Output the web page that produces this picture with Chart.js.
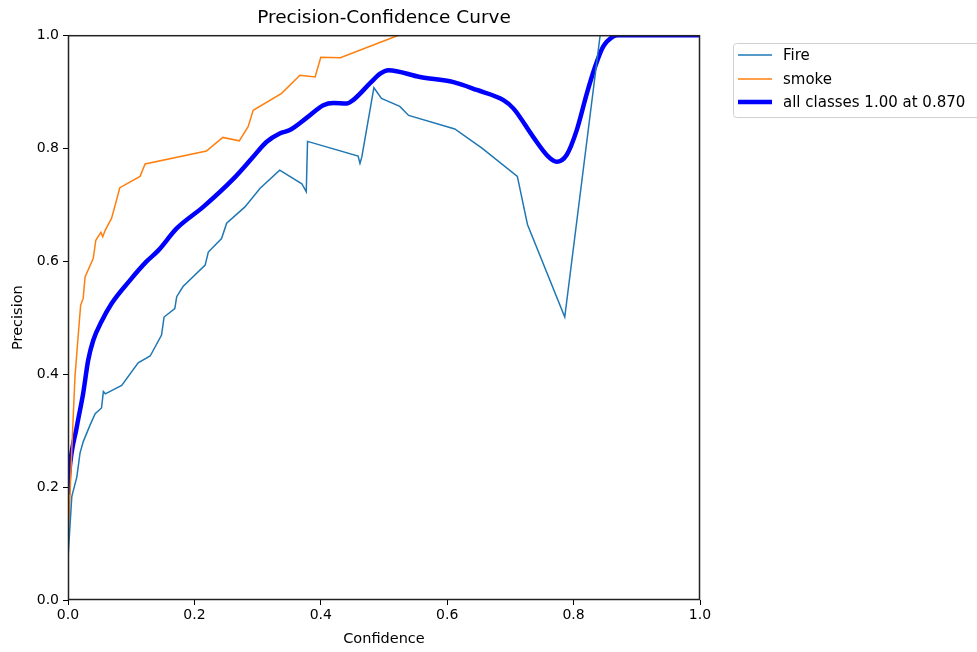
<!DOCTYPE html>
<html>
<head>
<meta charset="utf-8">
<script src="https://cdn.jsdelivr.net/npm/chart.js@4.4.1/dist/chart.umd.min.js"></script>
<style>
  html, body { margin: 0; padding: 0; background: #fff; }
  #wrap { width: 977px; height: 652px; }
</style>
</head>
<body>
<div id="wrap"><canvas id="pc" width="977" height="652"></canvas></div>
<script>
// values
const tickValues = [0.0, 0.2, 0.4, 0.6, 0.8, 1.0];

const fireX = [0, 0.006, 0.014, 0.019, 0.024, 0.035, 0.043, 0.053, 0.056, 0.059, 0.085, 0.111, 0.130, 0.148, 0.152, 0.169, 0.172, 0.182, 0.217, 0.222, 0.243, 0.251, 0.280, 0.304, 0.335, 0.370, 0.377, 0.379, 0.459, 0.462, 0.465, 0.484, 0.496, 0.525, 0.539, 0.612, 0.655, 0.711, 0.727, 0.786, 0.842, 1.0];
const fireY = [0.074, 0.183, 0.218, 0.26, 0.28, 0.31, 0.33, 0.34, 0.369, 0.365, 0.38, 0.42, 0.432, 0.469, 0.501, 0.516, 0.537, 0.555, 0.593, 0.616, 0.640, 0.667, 0.696, 0.729, 0.761, 0.737, 0.723, 0.812, 0.786, 0.773, 0.785, 0.907, 0.888, 0.874, 0.858, 0.834, 0.800, 0.750, 0.665, 0.501, 1.0, 1.0];

const smokeX = [0, 0.006, 0.011, 0.016, 0.020, 0.024, 0.027, 0.040, 0.044, 0.052, 0.055, 0.059, 0.069, 0.082, 0.114, 0.122, 0.219, 0.245, 0.271, 0.285, 0.293, 0.338, 0.367, 0.391, 0.400, 0.431, 0.523, 1.0];
const smokeY = [0.10, 0.265, 0.395, 0.466, 0.522, 0.534, 0.572, 0.605, 0.637, 0.651, 0.643, 0.655, 0.676, 0.730, 0.750, 0.772, 0.795, 0.819, 0.813, 0.838, 0.867, 0.897, 0.929, 0.926, 0.961, 0.960, 1.0, 1.0];

const allX = [0, 0.002, 0.014, 0.024, 0.032, 0.040, 0.053, 0.069, 0.098, 0.124, 0.143, 0.172, 0.214, 0.262, 0.291, 0.314, 0.335, 0.351, 0.378, 0.404, 0.420, 0.441, 0.451, 0.478, 0.494, 0.507, 0.557, 0.610, 0.647, 0.689, 0.705, 0.736, 0.760, 0.773, 0.789, 0.805, 0.821, 0.834, 0.847, 0.863, 0.870, 1.0];
const allY = [0.186, 0.225, 0.307, 0.366, 0.425, 0.460, 0.493, 0.525, 0.566, 0.599, 0.619, 0.658, 0.696, 0.746, 0.782, 0.811, 0.826, 0.832, 0.854, 0.876, 0.880, 0.879, 0.885, 0.915, 0.932, 0.938, 0.926, 0.917, 0.903, 0.885, 0.870, 0.820, 0.785, 0.776, 0.788, 0.832, 0.897, 0.944, 0.980, 0.998, 1.0, 1.0];

const seriesNames = ['Fire', 'smoke', 'all classes 1.00 at 0.870'];
const seriesColors = ['#1f77b4', '#ff7f0e', '#0000ff'];
const seriesWidths = [1.5, 1.5, 4.5];

const FONT = "'DejaVu Sans', sans-serif";

function toPoints(xs, ys) {
  return xs.map((x, i) => ({ x: x, y: ys[i] }));
}

// frame around the axes + matplotlib-like legend box
const framePlugin = {
  id: 'frame',
  afterDraw(chart) {
    const ctx = chart.ctx;
    const a = chart.chartArea;
    ctx.save();
    ctx.strokeStyle = '#222';
    ctx.lineWidth = 1.5;
    ctx.strokeRect(a.left + 0.5, a.top + 0.5, a.right - a.left - 1, a.bottom - a.top - 1);

    // legend
    const bx = 733, by = 43, bw = 250, bh = 74;
    ctx.fillStyle = '#fff';
    ctx.strokeStyle = '#d0d0d0';
    ctx.lineWidth = 1;
    ctx.beginPath();
    ctx.roundRect(bx + 0.5, by + 0.5, bw, bh, 3);
    ctx.fill();
    ctx.stroke();
    ctx.font = '15px ' + FONT;
    ctx.textBaseline = 'middle';
    ctx.textAlign = 'left';
    const rows = [55, 79, 102];
    seriesNames.forEach((name, i) => {
      ctx.strokeStyle = seriesColors[i];
      ctx.lineWidth = seriesWidths[i];
      ctx.beginPath();
      ctx.moveTo(738, rows[i]);
      ctx.lineTo(772, rows[i]);
      ctx.stroke();
      ctx.fillStyle = '#000';
      ctx.fillText(name, 783, rows[i] + 1);
    });
    ctx.restore();
  }
};

const ctx = document.getElementById('pc').getContext('2d');
new Chart(ctx, {
  type: 'line',
  data: {
    datasets: [
      {
        label: seriesNames[0],
        data: toPoints(fireX, fireY),
        borderColor: seriesColors[0],
        borderWidth: seriesWidths[0],
        pointRadius: 0,
        tension: 0,
        clip: 0
      },
      {
        label: seriesNames[1],
        data: toPoints(smokeX, smokeY),
        borderColor: seriesColors[1],
        borderWidth: seriesWidths[1],
        pointRadius: 0,
        tension: 0,
        clip: 0
      },
      {
        label: seriesNames[2],
        data: toPoints(allX, allY),
        borderColor: seriesColors[2],
        borderWidth: seriesWidths[2],
        pointRadius: 0,
        cubicInterpolationMode: 'monotone',
        clip: 0
      }
    ]
  },
  options: {
    responsive: false,
    animation: false,
    layout: { padding: { left: 0, right: 277, top: 0, bottom: 0 } },
    plugins: {
      legend: { display: false },
      tooltip: { enabled: false },
      title: {
        display: true,
        fullSize: false,
        text: 'Precision-Confidence Curve',
        color: '#000',
        font: { family: FONT, size: 18.5, weight: 'normal' },
        padding: { top: 7, bottom: 6 }
      }
    },
    scales: {
      x: {
        type: 'linear',
        min: 0,
        max: 1,
        afterBuildTicks: (s) => { s.ticks = tickValues.map(v => ({ value: v })); },
        afterFit: (s) => { s.height = 52; },
        grid: { drawOnChartArea: false, drawTicks: true, tickLength: 5, color: '#000' },
        border: { display: false },
        ticks: {
          color: '#000',
          padding: 2,
          font: { family: FONT, size: 14 },
          maxRotation: 0,
          callback: (v) => v.toFixed(1)
        },
        title: {
          display: true,
          text: 'Confidence',
          color: '#000',
          font: { family: FONT, size: 14.5 },
          padding: { top: 0, bottom: 4 }
        }
      },
      y: {
        type: 'linear',
        min: 0,
        max: 1,
        afterBuildTicks: (s) => { s.ticks = tickValues.map(v => ({ value: v })); },
        afterFit: (s) => { s.width = 68; },
        grid: { drawOnChartArea: false, drawTicks: true, tickLength: 5, color: '#000' },
        border: { display: false },
        ticks: {
          color: '#000',
          padding: 4,
          font: { family: FONT, size: 14 },
          callback: (v) => v.toFixed(1)
        },
        title: {
          display: true,
          text: 'Precision',
          color: '#000',
          font: { family: FONT, size: 14.5 },
          padding: { top: 10, bottom: 0 }
        }
      }
    }
  },
  plugins: [framePlugin]
});
</script>
</body>
</html>
